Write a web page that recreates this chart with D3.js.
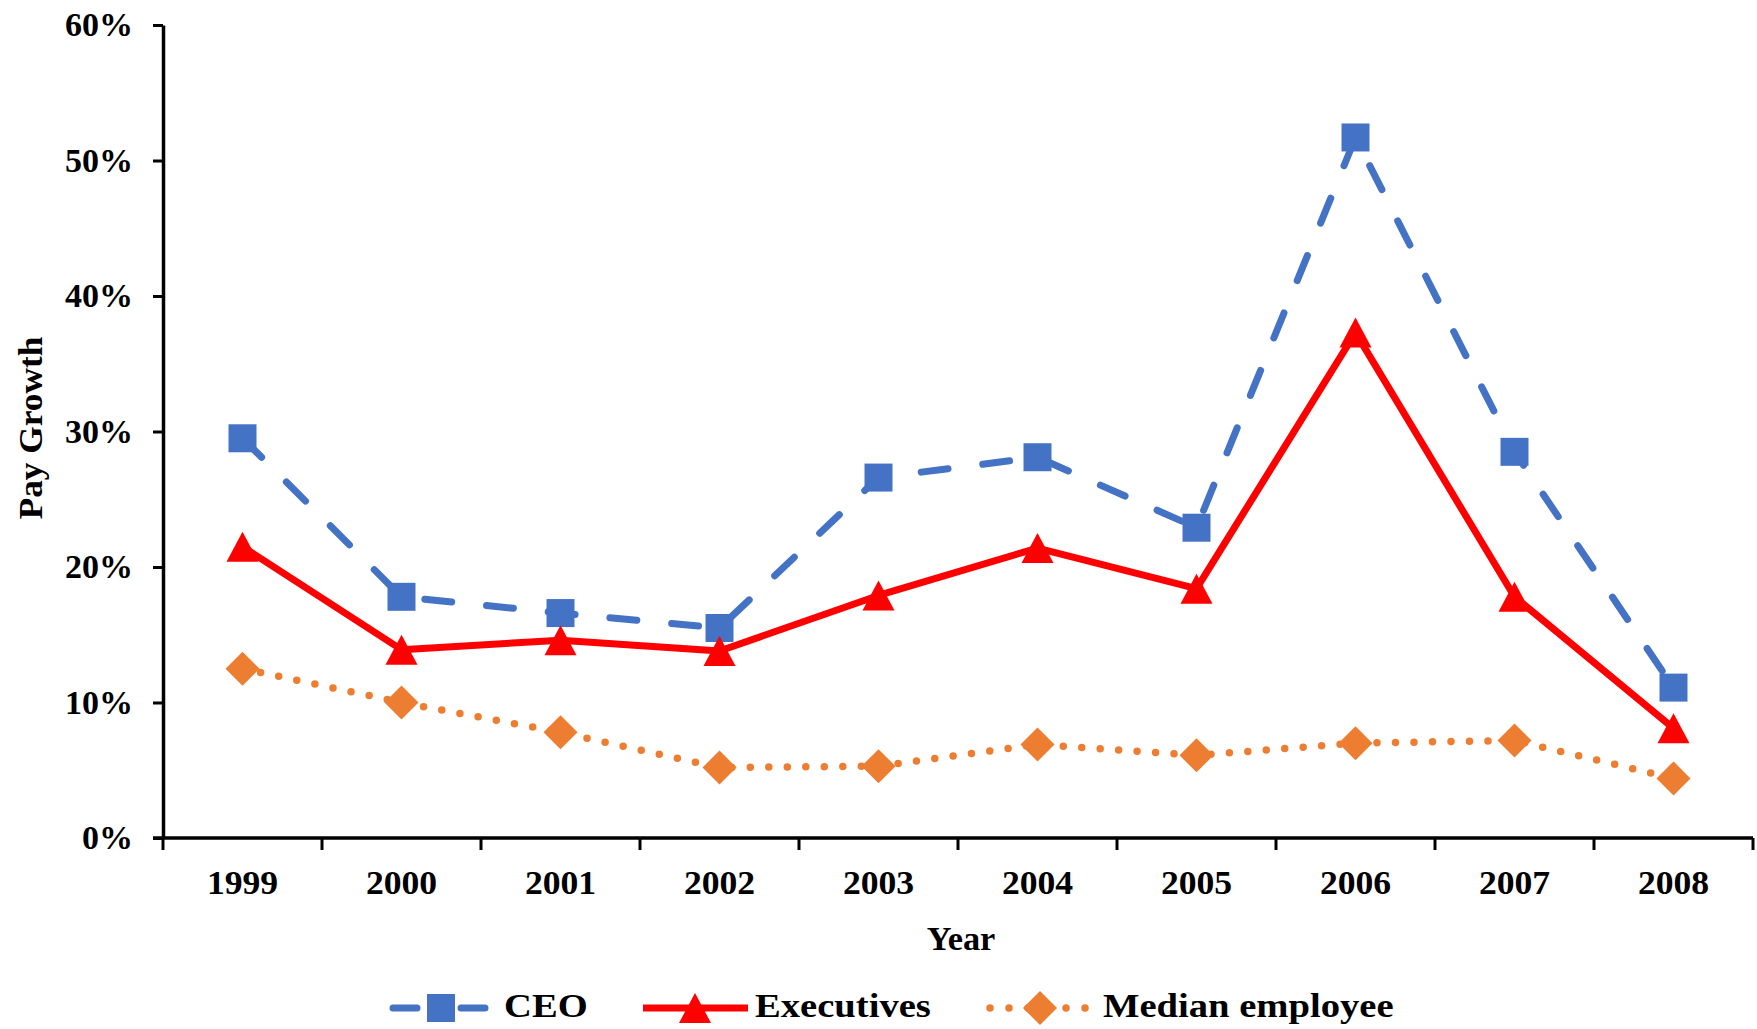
<!DOCTYPE html>
<html>
<head>
<meta charset="utf-8">
<script src="https://cdn.jsdelivr.net/npm/d3@7"></script>
<style>
  html, body { margin: 0; padding: 0; background: #fff; }
  svg { display: block; }
  text { font-family: "Liberation Serif", "Times New Roman", serif; font-weight: bold; fill: #000; }
</style>
</head>
<body>
<svg id="chart" width="1757" height="1029"></svg>
<script>
// ---- data ----
const years = ["1999","2000","2001","2002","2003","2004","2005","2006","2007","2008"];
const ceo        = [29.5, 17.8, 16.6, 15.5, 26.6, 28.1, 22.9, 51.7, 28.5, 11.1];
const executives = [21.5, 13.9, 14.6, 13.8, 17.9, 21.4, 18.4, 37.3, 17.8,  8.1];
const median     = [12.5, 10.0,  7.8,  5.2,  5.3,  6.9,  6.1,  7.0,  7.2,  4.4];
const yTicks = [0, 10, 20, 30, 40, 50, 60];
const seriesNames = ["CEO", "Executives", "Median employee"];
const xTitle = "Year";
const yTitle = "Pay Growth";

(function () {
// ---- layout ----
const svg = d3.select("#chart");
const mLeft = 163, mRight = 1753, mTop = 25, mBottom = 838;
const FS = 33;
const stretch = k => function () {
  this.setAttribute("textLength", this.getComputedTextLength() * k);
  this.setAttribute("lengthAdjust", "spacingAndGlyphs");
};

const x = d3.scaleBand().domain(years).range([mLeft, mRight]);
const y = d3.scaleLinear().domain([0, 60]).range([mBottom, mTop]);
const cx = d => x(d) + x.bandwidth() / 2;

// marker shapes (bbox-centred)
const shapes = {
  square: s => `M${-s/2},${-s/2}h${s}v${s}h${-s}Z`,
  triangle: (w, h) => `M0,${-h/2}L${w/2},${h/2}L${-w/2},${h/2}Z`,
  diamond: (w, h) => `M0,${-h/2}L${w/2},0L0,${h/2}L${-w/2},0Z`
};

const series = [
  { name: seriesNames[0], values: ceo, color: "#4472C4", width: 7, dash: "27 35",
    marker: shapes.square(28) },
  { name: seriesNames[1], values: executives, color: "#FF0000", width: 7, dash: null,
    marker: shapes.triangle(32, 30) },
  { name: seriesNames[2], values: median, color: "#ED7D31", width: 7.5, dash: "0 18.5",
    marker: shapes.diamond(34, 34) }
];

// ---- axes ----
const yAxis = svg.append("g")
  .attr("transform", `translate(${mLeft},0)`)
  .call(d3.axisLeft(y).tickValues(yTicks).tickSize(10).tickSizeOuter(0)
    .tickPadding(20).tickFormat(d => d + "%"));
yAxis.select(".domain").attr("stroke", "#000").attr("stroke-width", 3.5);
yAxis.selectAll(".tick line").attr("stroke", "#000").attr("stroke-width", 3);
yAxis.selectAll(".tick text").attr("font-size", FS)
  .style("font-family", '"Liberation Serif", serif').style("font-weight", "bold")
  .each(stretch(1.03));

const xAxis = svg.append("g")
  .attr("transform", `translate(0,${mBottom})`)
  .call(d3.axisBottom(x).tickSize(0).tickSizeOuter(0));
xAxis.select(".domain").attr("stroke", "#000").attr("stroke-width", 3.5)
  .attr("d", `M${mLeft - 10},0H${mRight}`);
xAxis.selectAll(".tick text").attr("font-size", FS).attr("y", 56).attr("dy", 0)
  .style("font-family", '"Liberation Serif", serif').style("font-weight", "bold")
  .each(stretch(1.08));
// category boundary ticks
const bounds = years.map(d => x(d)).concat([x.range()[1]]);
xAxis.selectAll("line.bound").data(bounds).enter().append("line")
  .attr("class", "bound")
  .attr("x1", d => d).attr("x2", d => d)
  .attr("y1", 0).attr("y2", 12)
  .attr("stroke", "#000").attr("stroke-width", 3);

// axis titles
svg.append("text").attr("x", (mLeft + mRight) / 2 + 3).attr("y", 950)
  .attr("text-anchor", "middle").attr("font-size", FS).text(xTitle)
  .each(stretch(1.04));
svg.append("text").attr("transform", `translate(42,428) rotate(-90)`)
  .attr("text-anchor", "middle").attr("font-size", FS).text(yTitle)
  .each(stretch(1.07));

// ---- series ----
const line = d3.line().x((d, i) => cx(years[i])).y(d => y(d));
series.forEach(s => {
  const g = svg.append("g");
  g.append("path").datum(s.values)
    .attr("d", line)
    .attr("fill", "none")
    .attr("stroke", s.color)
    .attr("stroke-width", s.width)
    .attr("stroke-linecap", s.dash ? "round" : "butt")
    .attr("stroke-linejoin", "round")
    .attr("stroke-dasharray", s.dash);
  g.selectAll("path.mk").data(s.values).enter().append("path")
    .attr("class", "mk")
    .attr("transform", (d, i) => `translate(${cx(years[i])},${y(d)})`)
    .attr("d", s.marker)
    .attr("fill", s.color);
});

// ---- legend ----
const legendY = 1008, legendBase = 1017;
const legendItems = [
  { x1: 393, x2: 488, mx: 441, tx: 504, dash: "24 44" },
  { x1: 643, x2: 748, mx: 695, tx: 755, dash: null },
  { x1: 990, x2: 1092, mx: 1040, tx: 1103, dash: "0 19" }
];
series.forEach((s, i) => {
  const L = legendItems[i];
  const g = svg.append("g");
  g.append("line")
    .attr("x1", L.x1).attr("x2", L.x2).attr("y1", legendY).attr("y2", legendY)
    .attr("stroke", s.color).attr("stroke-width", s.width)
    .attr("stroke-linecap", L.dash ? "round" : "butt")
    .attr("stroke-dasharray", L.dash);
  g.append("path").attr("transform", `translate(${L.mx},${legendY})`)
    .attr("d", s.marker).attr("fill", s.color);
  g.append("text").attr("x", L.tx).attr("y", legendBase).attr("font-size", FS)
    .text(s.name)
    .each(stretch(1.17));
});
})();
</script>
</body>
</html>
